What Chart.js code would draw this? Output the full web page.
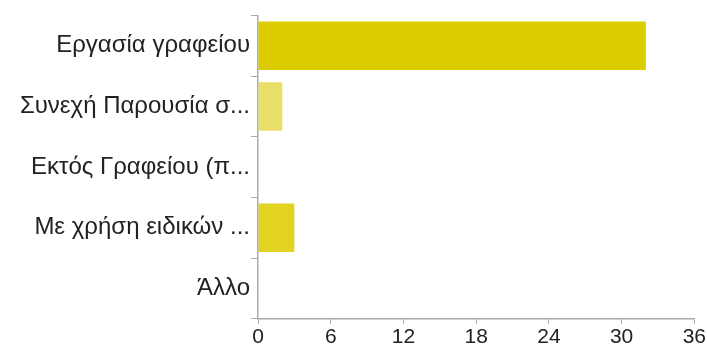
<!DOCTYPE html>
<html>
<head>
<meta charset="utf-8">
<script src="https://cdn.jsdelivr.net/npm/chart.js@4.4.0/dist/chart.umd.min.js"></script>
<style>
  body { margin: 0; background: #fff; }
  #wrap { width: 707px; height: 351px; }
</style>
</head>
<body>
<div id="wrap"><canvas id="bar-chart" width="707" height="351"></canvas></div>
<script>
// data
const categories = ["Εργασία γραφείου", "Συνεχή Παρουσία σ...", "Εκτός Γραφείου (π...", "Με χρήση ειδικών ...", "Άλλο"];
const answers = [32, 2, 0, 3, 0];
const barColors = ["#dccc00", "#e8de68", "#dccc00", "#e2d222", "#dccc00"];
const xTicks = [0, 6, 12, 18, 24, 30, 36];

window.addEventListener("load", function () {
    draw();
});

function draw() {
    const axisColor = "#aaaaaa";

    new Chart(document.getElementById("bar-chart"), {
        type: "bar",
        data: {
            labels: categories,
            datasets: [{
                data: answers,
                backgroundColor: barColors,
                borderWidth: 0,
                barPercentage: 0.8,
                categoryPercentage: 1.0
            }]
        },
        options: {
            indexAxis: "y",
            responsive: false,
            animation: false,
            layout: { padding: { top: 13, right: 2, bottom: 0, left: 4 } },
            plugins: {
                legend: { display: false },
                tooltip: { enabled: false }
            },
            scales: {
                x: {
                    min: 0,
                    max: 36,
                    afterBuildTicks: function (axis) {
                        axis.ticks = xTicks.map(v => ({ value: v }));
                    },
                    grid: { drawOnChartArea: false, color: axisColor, tickLength: 5 },
                    border: { color: axisColor, width: 1.5 },
                    ticks: { color: "#222", font: { family: "Liberation Sans", size: 21 }, padding: 1 }
                },
                y: {
                    afterFit: function (scale) {
                        scale.width = 254; // y axis line near x=258 like the picture
                    },
                    grid: { drawOnChartArea: false, color: axisColor, tickLength: 7 },
                    border: { color: axisColor, width: 1.5 },
                    ticks: { color: "#222", font: { family: "Liberation Sans", size: 24 }, padding: 1 }
                }
            }
        }
    });
}
</script>
</body>
</html>
